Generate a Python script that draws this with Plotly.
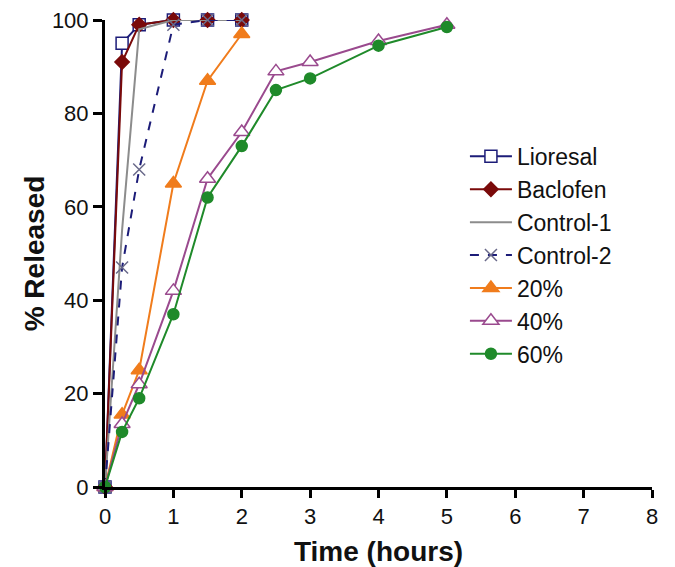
import plotly.graph_objects as go

t_short = [0, 0.25, 0.5, 1, 1.5, 2]
t_long = [0, 0.25, 0.5, 1, 1.5, 2, 2.5, 3, 4, 5]

lioresal = [0, 95, 99, 100, 100, 100]
baclofen = [0, 91, 99, 100, 100, 100]
control1 = [0, 55, 98, 100, 100, 100]
control2 = [0, 47, 68, 99, 100, 100]
p20 = [0, 15.5, 25, 65, 87, 97]
p40 = [0, 13.5, 22, 42, 66, 76, 89, 91, 95.5, 99]
p60 = [0, 11.8, 19, 37, 62, 73, 85, 87.5, 94.5, 98.5]

x_ticks = [0, 1, 2, 3, 4, 5, 6, 7, 8]
y_ticks = [0, 20, 40, 60, 80, 100]

FONT = "Liberation Sans, Arial, sans-serif"
fig = go.Figure()

def add(name, x, y, color, symbol=None, fill=None, dash="solid", size=9, width=2, mode="lines+markers", mline=None):
    marker = dict(symbol=symbol or "circle", size=size, color=fill or color,
                  line=dict(color=mline or color, width=1.5))
    fig.add_trace(go.Scatter(x=x, y=y, name=name, mode=mode, cliponaxis=False,
                             line=dict(color=color, width=width, dash=dash), marker=marker))

add("Lioresal", t_short, lioresal, "#1c1c78", "square", "white", size=12)
add("Baclofen", t_short, baclofen, "#7a0a0a", "diamond", "#7a0a0a", size=11)
add("Control-1", t_short, control1, "#8c8c8c", mode="lines")
add("Control-2", t_short, control2, "#1c1c78", "x-thin", "#6a6a8a", dash="dash", size=12, mline="#6a6a8a")
add("20%", t_short, p20, "#f07c1c", "triangle-up", "#f07c1c", size=14)
add("40%", t_long, p40, "#9a4a8e", "triangle-up", "white", size=14)
add("60%", t_long, p60, "#1f8a2a", "circle", "#1f8a2a", size=11)

tick_font = dict(family=FONT, size=22, color="#111")
title_font = dict(family=FONT, size=28, color="#111")
# page body has an 8px default margin, so the figure is shrunk by 8px
fig.update_layout(
    width=667, height=559,
    margin=dict(l=97, r=23, t=12, b=80),
    paper_bgcolor="white", plot_bgcolor="white",
    font=dict(family=FONT, color="#111"),
    xaxis=dict(range=[0, 8], tickvals=x_ticks, showgrid=False, zeroline=False,
               showline=True, linecolor="black", linewidth=3, ticks="outside",
               tickwidth=3, ticklen=8, tickcolor="black", tickfont=tick_font,
               automargin=False, ticklabeloverflow="allow",
               title=dict(text="<b>Time (hours)</b>", font=title_font, standoff=22)),
    yaxis=dict(range=[0, 100], tickvals=y_ticks, showgrid=False, zeroline=False,
               showline=True, linecolor="black", linewidth=3, ticks="outside",
               tickwidth=3, ticklen=9, tickcolor="black", tickfont=tick_font,
               automargin=False, ticklabeloverflow="allow",
               title=dict(text="<b>% Released</b>", font=title_font, standoff=0)),
    legend=dict(x=0.658, y=0.754, xanchor="left", yanchor="top",
                font=dict(size=23, family=FONT, color="#111"),
                itemwidth=42, tracegroupgap=0, bgcolor="rgba(0,0,0,0)"),
)

fig.write_html("out.html")
